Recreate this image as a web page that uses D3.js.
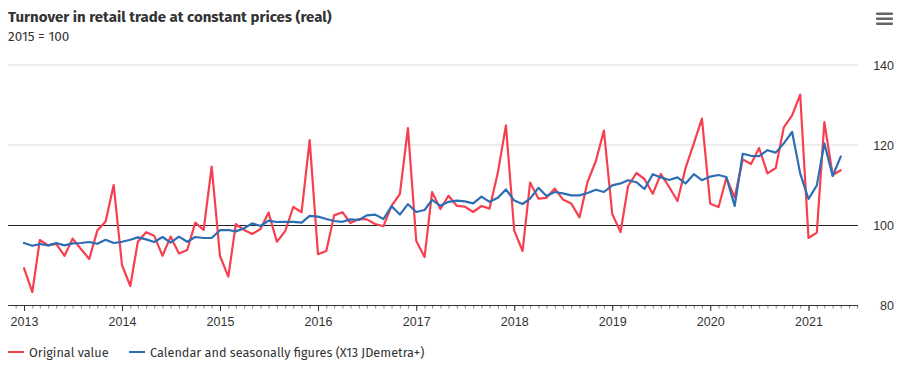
<!DOCTYPE html>
<html>
<head>
<meta charset="utf-8">
<script src="https://cdn.jsdelivr.net/npm/d3@7"></script>
<style>
  html, body { margin: 0; padding: 0; background: #fff; }
  svg { display: block; font-family: "Fira Sans", Lato, "Open Sans", sans-serif; }
</style>
</head>
<body>
<svg id="chart" width="915" height="368"></svg>
<script>
// ---- data ----
const startYear = 2013, startMonth = 0; // Jan 2013, monthly
const originalValues = [
  89.2, 83.2, 96.25, 94.9, 95.3, 92.3, 96.6, 94.0, 91.5, 98.6, 100.9, 110.0,
  90.0, 84.75, 95.8, 98.2, 97.3, 92.3, 97.1, 92.9, 93.75, 100.6, 98.75, 114.6,
  92.25, 87.1, 100.2, 98.75, 97.75, 99.0, 103.1, 95.8, 98.5, 104.5, 103.2, 121.2,
  92.7, 93.5, 102.4, 103.2, 100.5, 101.5, 101.4, 100.25, 99.7, 104.8, 107.75, 124.25,
  96.0, 92.0, 108.25, 104.0, 107.3, 104.8, 104.6, 103.25, 104.75, 104.1, 113.1, 124.9,
  98.6, 93.5, 110.6, 106.6, 106.8, 109.1, 106.4, 105.4, 101.9, 110.75, 116.0, 123.6,
  102.75, 98.25, 109.75, 113.0, 111.5, 107.8, 112.75, 109.5, 106.0, 114.2, 120.4, 126.6,
  105.3, 104.5, 111.75, 106.9, 116.4, 115.25, 119.25, 112.9, 114.25, 124.4, 127.4, 132.6,
  96.75, 98.1, 125.7, 112.5, 113.7
];
const adjustedValues = [
  95.5, 94.8, 95.25, 94.9, 95.5, 94.9, 95.4, 95.5, 95.75, 95.3, 96.3, 95.5,
  95.8, 96.3, 96.9, 96.4, 95.75, 97.0, 95.6, 97.1, 95.8, 97.0, 96.75, 96.75,
  98.7, 98.75, 98.4, 99.2, 100.4, 99.75, 101.1, 100.75, 100.8, 100.8, 100.6, 102.3,
  102.1, 101.5, 101.0, 100.8, 101.4, 101.25, 102.4, 102.6, 101.5, 104.7, 102.6, 105.2,
  103.25, 103.75, 106.3, 104.8, 105.8, 106.1, 105.9, 105.4, 107.1, 105.8, 106.8, 108.9,
  106.1, 105.25, 106.6, 109.3, 107.25, 108.25, 107.9, 107.4, 107.4, 108.0, 108.8, 108.25,
  109.9, 110.4, 111.2, 110.7, 109.0, 112.7, 111.9, 111.25, 111.9, 110.4, 112.7, 111.2,
  112.1, 112.5, 112.0, 104.75, 117.8, 117.3, 117.2, 118.7, 118.1, 120.4, 123.25, 112.9,
  106.5, 109.9, 120.4, 112.25, 117.1
];
const yTicks = [80, 100, 120, 140];
const xTickYears = [2013, 2014, 2015, 2016, 2017, 2018, 2019, 2020, 2021];
const seriesNames = ["Original value", "Calendar and seasonally figures (X13 JDemetra+)"];
const seriesColors = ["#f7404f", "#2d6db3"];
const titleText = "Turnover in retail trade at constant prices (real)";
const subtitleText = "2015 = 100";

// ---- layout ----
const plotLeft = 8, plotRight = 858, plotTop = 65, plotBottom = 305;
const svg = d3.select("#chart");

const dates = originalValues.map((v, i) => new Date(startYear, startMonth + i, 1));

const x = d3.scaleTime()
  .domain([new Date(2013, 0, 1), new Date(2021, 0, 1)])
  .range([24, 808.5]);
const y = d3.scaleLinear().domain([80, 140]).range([plotBottom, plotTop]);

// title
svg.append("text").attr("x", 8).attr("y", 22)
  .attr("font-size", 15).attr("font-weight", "bold").attr("fill", "#333")
  .text(titleText);
svg.append("text").attr("x", 8).attr("y", 40.5)
  .attr("font-size", 13.5).attr("fill", "#333")
  .text(subtitleText);

// menu icon
[0, 1, 2].forEach(i => {
  svg.append("rect").attr("x", 876).attr("y", 12.5 + i * 5).attr("width", 17).attr("height", 2.6)
    .attr("rx", 1).attr("fill", "#666");
});

// gridlines
svg.append("g").selectAll("line").data(yTicks.filter(t => t !== 80 && t !== 100)).join("line")
  .attr("x1", plotLeft).attr("x2", plotRight)
  .attr("y1", d => y(d)).attr("y2", d => y(d))
  .attr("stroke", "#eeeeee").attr("stroke-width", 2);

// reference line at 100
svg.append("line").attr("x1", plotLeft).attr("x2", plotRight)
  .attr("y1", y(100) + 0.5).attr("y2", y(100) + 0.5).attr("stroke", "#222").attr("stroke-width", 1);

// right y axis labels
const yAxis = d3.axisRight(y).tickValues(yTicks).tickSize(0).tickPadding(0);
const gy = svg.append("g").attr("transform", `translate(894,0)`).call(yAxis);
gy.select(".domain").remove();
gy.selectAll("text").attr("text-anchor", "end").attr("font-size", 12.5).attr("fill", "#333")
  .attr("font-family", null).attr("dy", "0.35em");

// x axis
const monthTicks = d3.timeMonth.range(x.invert(plotLeft), x.invert(plotRight + 1));
const xAxisMinor = d3.axisBottom(x).tickValues(monthTicks).tickSize(3.5).tickFormat("");
const gxm = svg.append("g").attr("transform", `translate(0,${plotBottom})`).call(xAxisMinor);
gxm.select(".domain").remove();
gxm.selectAll("line").attr("stroke", "#888");

const yearDates = xTickYears.map(yr => new Date(yr, 0, 1));
const xAxis = d3.axisBottom(x).tickValues(yearDates).tickSize(6).tickPadding(6)
  .tickFormat(d3.timeFormat("%Y"));
const gx = svg.append("g").attr("transform", `translate(0,${plotBottom})`).call(xAxis);
gx.select(".domain").remove();
gx.selectAll("line").attr("stroke", "#333");
gx.selectAll("text").attr("font-size", 12.5).attr("fill", "#333").attr("font-family", null);

svg.append("line").attr("x1", plotLeft).attr("x2", plotRight)
  .attr("y1", plotBottom + 0.5).attr("y2", plotBottom + 0.5).attr("stroke", "#333").attr("stroke-width", 1);

// lines
const line = d3.line().x((d, i) => x(dates[i])).y(d => y(d));
svg.append("path").datum(originalValues).attr("d", line)
  .attr("fill", "none").attr("stroke", seriesColors[0]).attr("stroke-width", 2.2)
  .attr("stroke-linejoin", "round").attr("stroke-linecap", "round");
svg.append("path").datum(adjustedValues).attr("d", line)
  .attr("fill", "none").attr("stroke", seriesColors[1]).attr("stroke-width", 2.2)
  .attr("stroke-linejoin", "round").attr("stroke-linecap", "round");

// legend
const legend = svg.append("g").attr("transform", "translate(0,352)");
let lx = 8;
seriesNames.forEach((name, i) => {
  legend.append("line").attr("x1", lx).attr("x2", lx + 16).attr("y1", 0).attr("y2", 0)
    .attr("stroke", seriesColors[i]).attr("stroke-width", 2);
  const t = legend.append("text").attr("x", lx + 21).attr("y", 4.5)
    .attr("font-size", 12.7).attr("fill", "#333").text(name);
  lx += 21 + t.node().getComputedTextLength() + 20.5;
});
</script>
</body>
</html>
